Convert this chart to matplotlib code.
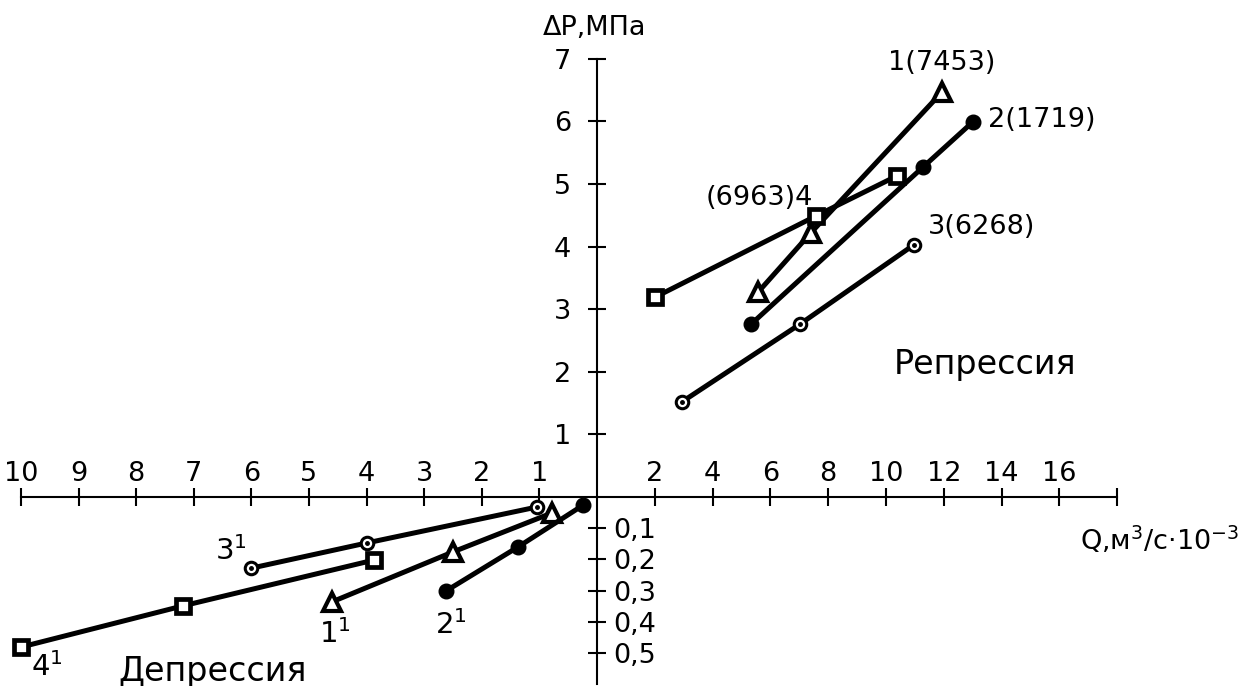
import matplotlib
matplotlib.use('Agg')
import matplotlib.pyplot as plt

plt.rcParams['font.family'] = ['DejaVu Sans']
plt.rcParams['mathtext.default'] = 'regular'

# Репрессия: Q (м3/с*10^-3), dP (МПа)
q1 = [5.57, 7.40, 11.94]
p1 = [3.27, 4.22, 6.47]
q2 = [5.33, 11.28, 13.0]
p2 = [2.76, 5.27, 5.99]
q3 = [2.94, 7.02, 10.97]
p3 = [1.52, 2.76, 4.03]
q4 = [2.0, 7.58, 10.38]
p4 = [3.19, 4.49, 5.13]

# Депрессия
q1d = [4.6, 2.5, 0.78]
p1d = [0.336, 0.176, 0.051]
q2d = [2.62, 1.37, 0.24]
p2d = [0.301, 0.160, 0.026]
q3d = [6.0, 3.99, 1.04]
p3d = [0.228, 0.147, 0.032]
q4d = [10.0, 7.19, 3.87]
p4d = [0.481, 0.349, 0.202]

xt_pos = [2, 4, 6, 8, 10, 12, 14, 16, 18]
xt_pos_lab = ['2', '4', '6', '8', '10', '12', '14', '16', '']
yt_pos = [1, 2, 3, 4, 5, 6, 7]
xt_neg = [1, 2, 3, 4, 5, 6, 7, 8, 9, 10]
yt_neg = [0.1, 0.2, 0.3, 0.4, 0.5]
yt_neg_lab = ['0,1', '0,2', '0,3', '0,4', '0,5']

W, H = 1242, 686
fig = plt.figure(figsize=(W / 100, H / 100), dpi=100)

# origin of both quadrants in pixels
ox, oy = 597, 497
sx_r, sy_r = 28.9, 62.6     # px per unit, upper right
sx_l, sy_l = 57.6, 312.0    # px per unit, lower left

ax = fig.add_axes([ox / W, (H - oy) / H, 18 * sx_r / W, 7 * sy_r / H])
ax.set_xlim(0, 18)
ax.set_ylim(0, 7)
ax.patch.set_alpha(0)

axd = fig.add_axes([(ox - 10 * sx_l) / W, (H - oy - 0.6 * sy_l) / H,
                    10 * sx_l / W, 0.6 * sy_l / H])
axd.set_xlim(10, 0)
axd.set_ylim(0.6, 0)
axd.patch.set_alpha(0)

fs = 19.5
tk = dict(direction='inout', length=13, width=1.5, labelsize=fs, colors='black')

# upper right quadrant axes
for s in ['right', 'bottom']:
    ax.spines[s].set_visible(False)
ax.spines['top'].set_position(('data', 0))
ax.spines['top'].set_linewidth(1.5)
ax.spines['left'].set_linewidth(1.5)
ax.xaxis.tick_top()
ax.set_xticks(xt_pos)
ax.set_xticklabels(xt_pos_lab)
ax.set_yticks(yt_pos)
ax.tick_params(axis='x', pad=1, **tk)
ax.tick_params(axis='y', pad=12, **tk)

# lower left quadrant axes
for s in ['left', 'bottom']:
    axd.spines[s].set_visible(False)
axd.spines['top'].set_linewidth(1.5)
axd.spines['right'].set_linewidth(1.5)
axd.xaxis.tick_top()
axd.yaxis.tick_right()
axd.set_xticks(xt_neg)
axd.set_yticks(yt_neg)
axd.set_yticklabels(yt_neg_lab)
axd.tick_params(axis='x', pad=1, **tk)
axd.tick_params(axis='y', pad=5, **tk)

lw = 3.6
tri = dict(marker='^', ms=13, mfc='white', mec='black', mew=3)
dot = dict(marker='o', ms=10.5, mfc='black', mec='black')
ring = dict(marker='o', ms=9, mfc='white', mec='black', mew=2.2)
sq = dict(marker='s', ms=10, mfc='white', mec='black', mew=3.4)

for a, series in [(ax, [(q1, p1, tri), (q2, p2, dot), (q3, p3, ring), (q4, p4, sq)]),
                  (axd, [(q1d, p1d, tri), (q2d, p2d, dot), (q3d, p3d, ring), (q4d, p4d, sq)])]:
    for x, y, st in series:
        a.plot(x, y, color='black', lw=lw, clip_on=False, zorder=3, **st)
        if st is ring:
            a.plot(x, y, ls='none', marker='o', ms=2.5, color='black', clip_on=False, zorder=4)

ax.text(-0.07, 7.5, 'ΔP,МПа', fontsize=fs, ha='center', va='center')
ax.text(16.71, -0.69, 'Q,м$^3$/с·10$^{-3}$', fontsize=fs, ha='left', va='center')
ax.text(11.94, 6.93, '1(7453)', fontsize=fs, ha='center', va='center')
ax.text(13.53, 6.02, '2(1719)', fontsize=fs, ha='left', va='center')
ax.text(11.45, 4.31, '3(6268)', fontsize=fs, ha='left', va='center')
ax.text(7.47, 4.78, '(6963)4', fontsize=fs, ha='right', va='center')
ax.text(13.43, 2.12, 'Репрессия', fontsize=24, ha='center', va='center')

axd.text(6.35, 0.173, '3$^1$', fontsize=21, ha='center', va='center')
axd.text(4.55, 0.44, '1$^1$', fontsize=21, ha='center', va='center')
axd.text(2.53, 0.41, '2$^1$', fontsize=21, ha='center', va='center')
axd.text(9.55, 0.545, '4$^1$', fontsize=21, ha='center', va='center')
axd.text(6.68, 0.558, 'Депрессия', fontsize=24, ha='center', va='center')

fig.savefig('out.png', dpi=100)
